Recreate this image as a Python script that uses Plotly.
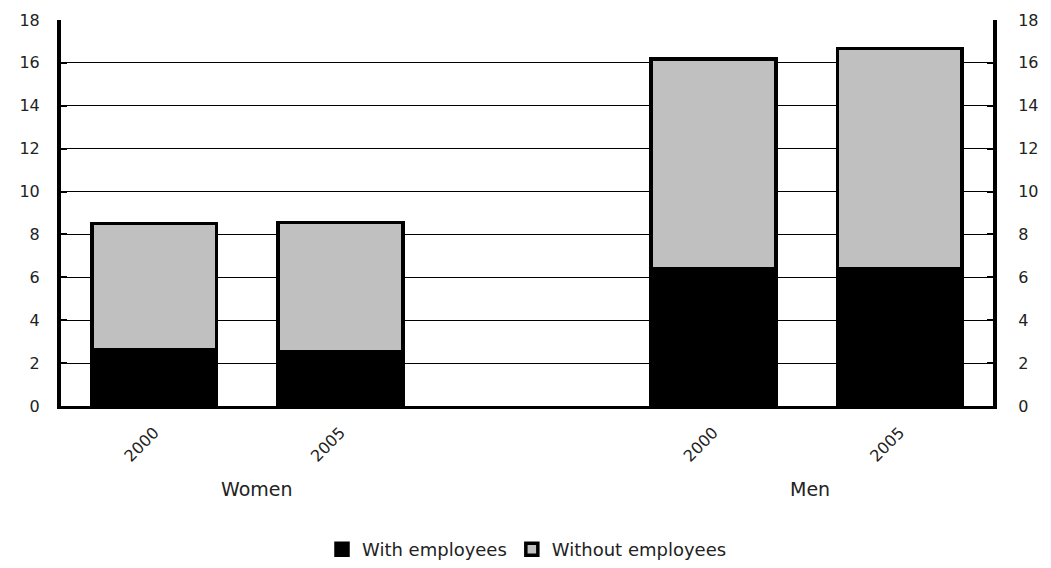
import plotly.graph_objects as go

# Data
groups = ["Women", "Women", "Men", "Men"]
years = ["2000", "2005", "2000", "2005"]
with_employees = [2.63, 2.53, 6.42, 6.38]
without_employees = [5.87, 6.02, 9.75, 10.28]
group_labels = ["Women", "Men"]
y_ticks = [0, 2, 4, 6, 8, 10, 12, 14, 16, 18]

cats = [f"{g} {y}" for g, y in zip(groups, years)]
cat_order = cats[:2] + [" "] + cats[2:]

font_family = "DejaVu Sans, Liberation Sans, Arial, sans-serif"
text_color = "#222222"

fig = go.Figure()
fig.add_trace(go.Bar(
    x=cats, y=with_employees, name="With employees",
    marker=dict(color="black", line=dict(color="black", width=3.5)),
    width=0.67,
))
fig.add_trace(go.Bar(
    x=cats, y=without_employees, name="Without employees",
    marker=dict(color="#C0C0C0", line=dict(color="black", width=3.5)),
    width=0.67,
))
# invisible trace to drive right-hand axis
fig.add_trace(go.Scatter(x=[cats[0]], y=[0], yaxis="y2", mode="markers",
                         marker=dict(opacity=0), showlegend=False, hoverinfo="skip"))

fig.update_layout(
    barmode="stack",
    width=1043, height=560,
    margin=dict(l=53, r=58, t=12, b=162, autoexpand=False),
    plot_bgcolor="white", paper_bgcolor="white",
    font=dict(family=font_family, size=16, color=text_color),
    xaxis=dict(
        type="category", categoryorder="array", categoryarray=cat_order,
        tickvals=cats, ticktext=years, tickangle=-45,
        showline=True, linecolor="black", linewidth=3,
        ticks="", showgrid=False, range=[-0.5, 4.5],
        tickfont=dict(size=16), ticklabelstandoff=8, automargin=False,
    ),
    yaxis=dict(
        range=[0, 18], tickvals=y_ticks, showgrid=True, gridcolor="black", gridwidth=1,
        showline=True, linecolor="black", linewidth=4,
        ticks="inside", ticklen=6, tickwidth=2, tickcolor="black",
        zeroline=False, tickfont=dict(size=16), ticklabelstandoff=14, automargin=False,
    ),
    yaxis2=dict(
        range=[0, 18], tickvals=y_ticks, overlaying="y", side="right",
        showgrid=False, showline=True, linecolor="black", linewidth=4,
        ticks="inside", ticklen=6, tickwidth=2, tickcolor="black",
        zeroline=False, tickfont=dict(size=16), ticklabelstandoff=18, automargin=False,
    ),
    legend=dict(orientation="h", x=0.5, xanchor="center", y=-0.372, yanchor="middle",
                font=dict(size=18), traceorder="normal", itemwidth=30),
)

group_x = [0.55, 3.52]
for gx, g in zip(group_x, group_labels):
    fig.add_annotation(x=gx, y=-0.215, xref="x", yref="paper",
                       text=g, showarrow=False, font=dict(size=19),
                       yanchor="middle")

fig.write_html("out.html")
